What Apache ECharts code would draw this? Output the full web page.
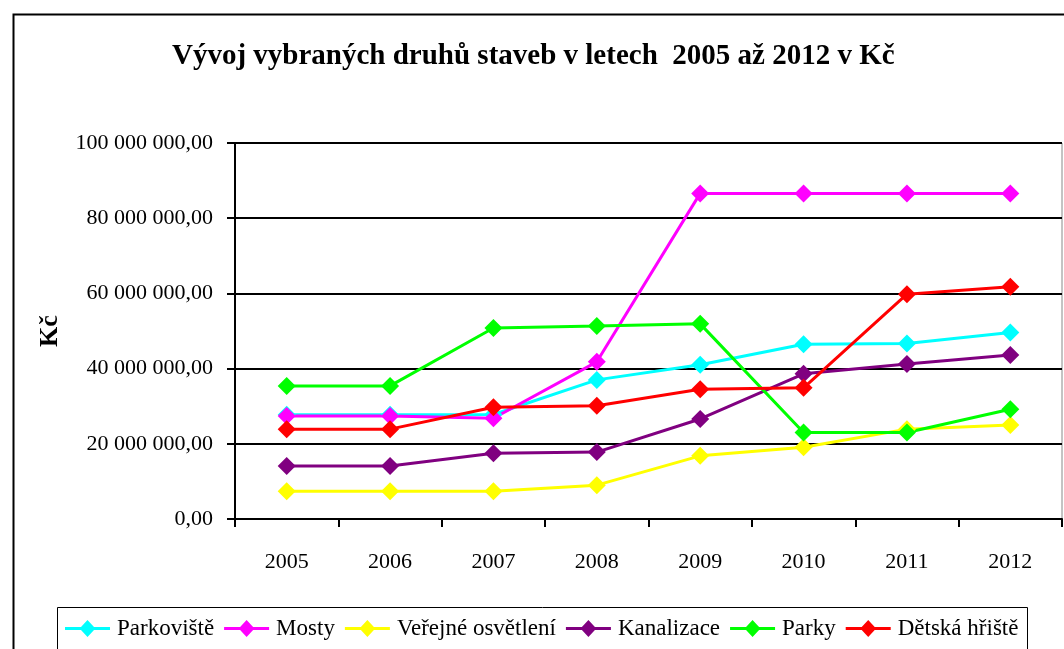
<!DOCTYPE html>
<html>
<head>
<meta charset="utf-8">
<script src="https://cdn.jsdelivr.net/npm/echarts@6/dist/echarts.min.js"></script>
<style>
  html, body { margin: 0; padding: 0; background: #fff; }
  #container { width: 1064px; height: 649px; }
</style>
</head>
<body>
<div id="container"></div>
<script>
var years = ['2005', '2006', '2007', '2008', '2009', '2010', '2011', '2012'];
var yTicks = [0, 20000000, 40000000, 60000000, 80000000, 100000000];

// hodnoty v mil. Kč
var parkoviste = [27.7, 27.7, 27.8, 37.0, 41.0, 46.5, 46.7, 49.6];
var mosty = [27.4, 27.4, 26.8, 41.8, 86.6, 86.6, 86.6, 86.6];
var verejneOsvetleni = [7.4, 7.4, 7.4, 9.0, 16.8, 19.1, 23.9, 25.0];
var kanalizace = [14.1, 14.1, 17.5, 17.8, 26.6, 38.6, 41.2, 43.6];
var parky = [35.4, 35.4, 50.8, 51.3, 51.9, 23.0, 23.0, 29.2];
var detskaHriste = [23.9, 23.9, 29.7, 30.1, 34.5, 34.9, 59.8, 61.8];

var seriesNames = ['Parkoviště', 'Mosty', 'Veřejné osvětlení', 'Kanalizace', 'Parky', 'Dětská hřiště'];
var seriesData = [parkoviste, mosty, verejneOsvetleni, kanalizace, parky, detskaHriste];
var colors = ['#00FFFF', '#FF00FF', '#FFFF00', '#800080', '#00FF00', '#FF0000'];

var serif = '"Liberation Serif", "DejaVu Serif", serif';
// ikona legendy: čára s kosočtvercem (45 x 18)
var legendIcon = 'path://M0,7.5 L16,7.5 L22.5,0.5 L29,7.5 L45,7.5 L45,10.5 L29,10.5 L22.5,17.5 L16,10.5 L0,10.5 Z';

function fmtKc(v) {
    var s = Math.round(v).toString();
    s = s.replace(/\B(?=(\d{3})+(?!\d))/g, ' ');
    return s + ',00';
}

var dom = document.getElementById('container');
var myChart = echarts.init(dom);

var series = [];
for (var i = 0; i < seriesNames.length; i++) {
    series.push({
        name: seriesNames[i],
        type: 'line',
        data: seriesData[i].map(function (v) { return v * 1000000; }),
        symbol: 'diamond',
        symbolSize: [18, 18],
        showAllSymbol: true,
        lineStyle: { width: 3, color: colors[i] },
        itemStyle: { color: colors[i] },
        animation: false
    });
}

var option = {
    backgroundColor: '#fff',
    animation: false,
    graphic: [
        {
            type: 'rect',
            left: 11, top: 12,
            shape: { width: 1100, height: 700 },
            style: { fill: 'none', stroke: '#000', lineWidth: 2 },
            silent: true
        },
        {
            type: 'rect',
            left: 55, top: 605,
            shape: { width: 970, height: 80 },
            style: { fill: 'none', stroke: '#000', lineWidth: 1 },
            silent: true
        }
    ],
    title: {
        text: 'Vývoj vybraných druhů staveb v letech  2005 až 2012 v Kč',
        left: 172,
        top: 42,
        padding: 0,
        textStyle: {
            fontFamily: serif,
            fontSize: 29,
            fontWeight: 'bold',
            color: '#000'
        }
    },
    legend: {
        left: 65,
        top: 617,
        padding: 0,
        itemWidth: 45,
        itemHeight: 18,
        itemGap: 10,
        icon: legendIcon,
        data: seriesNames,
        textStyle: { fontFamily: serif, fontSize: 23, color: '#000', padding: [0, 0, 0, 2] }
    },
    grid: {
        left: 235,
        right: 2,
        top: 143,
        bottom: 130,
        show: true,
        borderColor: '#888',
        borderWidth: 1,
        containLabel: false
    },
    xAxis: {
        type: 'category',
        data: years,
        boundaryGap: true,
        axisLine: { lineStyle: { color: '#000', width: 2 } },
        axisTick: { show: true, length: 8, interval: 0, lineStyle: { color: '#000', width: 2 } },
        axisLabel: {
            margin: 32,
            interval: 0,
            fontFamily: serif,
            fontSize: 22,
            color: '#000'
        },
        splitLine: { show: false }
    },
    yAxis: {
        type: 'value',
        min: yTicks[0],
        max: yTicks[yTicks.length - 1],
        interval: yTicks[1] - yTicks[0],
        name: 'Kč',
        nameLocation: 'middle',
        nameRotate: 90,
        nameGap: 172,
        nameTextStyle: {
            fontFamily: serif,
            fontSize: 26,
            fontWeight: 'bold',
            color: '#000'
        },
        axisLine: { show: true, lineStyle: { color: '#000', width: 2 } },
        axisTick: { show: true, length: 8, lineStyle: { color: '#000', width: 2 } },
        axisLabel: {
            margin: 22,
            fontFamily: serif,
            fontSize: 22,
            color: '#000',
            formatter: function (value) { return fmtKc(value); }
        },
        splitLine: { show: true, lineStyle: { color: '#000', width: 2 } }
    },
    series: series
};

if (option && typeof option === 'object') {
    myChart.setOption(option, true);
}
</script>
</body>
</html>
